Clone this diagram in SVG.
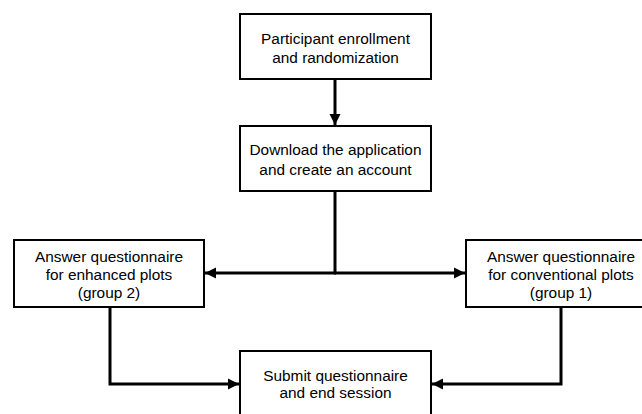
<svg xmlns="http://www.w3.org/2000/svg" width="642" height="414" viewBox="0 0 642 414">
<defs>
<style>
.box{fill:#fff;stroke:#000;stroke-width:2}
.lbl{font-family:"Liberation Sans",Arial,sans-serif;font-size:15.4px;fill:#000;text-anchor:middle}
.conn{fill:none;stroke:#000;stroke-width:3}
</style>
<marker id="ah" markerUnits="userSpaceOnUse" markerWidth="12" markerHeight="12" refX="11" refY="6" orient="auto">
<path d="M0,0.5 L11,6 L0,11.5 z" fill="#000"/>
</marker>
</defs>
<rect width="642" height="414" fill="#fff"/>
<g id="connectors">
<path class="conn" d="M335,80 V125" marker-end="url(#ah)"/>
<path class="conn" d="M335,192 V273"/>
<path class="conn" d="M336,273 H205" marker-end="url(#ah)"/>
<path class="conn" d="M334,273 H465" marker-end="url(#ah)"/>
<path class="conn" d="M110,307 V384 H239" marker-end="url(#ah)"/>
<path class="conn" d="M561,307 V384 H432" marker-end="url(#ah)"/>
</g>
<g id="n1">
<rect class="box" x="240" y="14" width="191" height="65"/>
<text class="lbl" x="335.5" y="44">Participant enrollment</text>
<text class="lbl" x="335.5" y="63">and randomization</text>
</g>
<g id="n2">
<rect class="box" x="240" y="126" width="191" height="65"/>
<text class="lbl" x="335.5" y="155">Download the application</text>
<text class="lbl" x="335.5" y="175">and create an account</text>
</g>
<g id="n3">
<rect class="box" x="14" y="240" width="190" height="67"/>
<text class="lbl" x="109" y="262">Answer questionnaire</text>
<text class="lbl" x="109" y="280">for enhanced plots</text>
<text class="lbl" x="109" y="298">(group 2)</text>
</g>
<g id="n4">
<rect class="box" x="466" y="240" width="190" height="67"/>
<text class="lbl" x="561" y="262">Answer questionnaire</text>
<text class="lbl" x="561" y="280">for conventional plots</text>
<text class="lbl" x="561" y="298">(group 1)</text>
</g>
<g id="n5">
<rect class="box" x="240" y="351" width="191" height="66"/>
<text class="lbl" x="335.5" y="381">Submit questionnaire</text>
<text class="lbl" x="335.5" y="398">and end session</text>
</g>
</svg>
